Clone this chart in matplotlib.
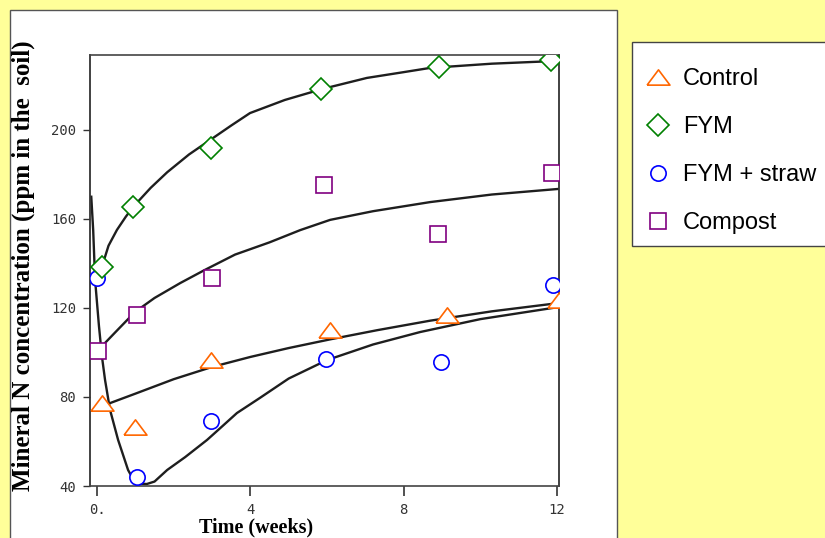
import matplotlib
matplotlib.use("Agg")
import matplotlib.pyplot as plt
from matplotlib.patches import Rectangle
from matplotlib.lines import Line2D

# measured points (weeks, ppm)
ctrl_x = [0.13, 1.0, 2.98, 6.08, 9.14, 12.04]
ctrl_y = [77.1, 66.3, 96.6, 110.3, 116.9, 123.8]
fym_x = [0.13, 0.94, 2.98, 5.85, 8.93, 11.83]
fym_y = [138.4, 165.4, 191.9, 218.4, 228.3, 231.5]
straw_x = [0.0, 1.04, 2.98, 5.98, 8.98, 11.9]
straw_y = [133.5, 44.0, 69.2, 97.1, 95.7, 130.3]
comp_x = [0.03, 1.04, 3.0, 5.93, 8.9, 11.88]
comp_y = [100.7, 116.9, 133.5, 175.3, 153.3, 180.7]

# fitted curves
fym_cx = [0.1, 0.3, 0.52, 0.75, 0.94, 1.4, 1.83, 2.4, 2.95, 3.5, 3.99, 4.9, 5.87,
          7.04, 8.0, 8.69, 10.3, 11.95]
fym_cy = [137.0, 148.0, 155.1, 161.0, 165.4, 174.0, 181.0, 189.0, 195.5, 202.0, 207.6,
          213.5, 218.4, 223.4, 226.0, 227.9, 229.8, 231.0]
comp_cx = [0.0, 0.21, 0.5, 0.99, 1.5, 2.17, 2.8, 3.6, 4.5, 5.3, 6.08, 7.2, 8.69,
           10.3, 12.03]
comp_cy = [100.7, 104.3, 109.5, 118.2, 124.5, 131.2, 137.0, 144.0, 149.5, 155.0,
           159.6, 163.5, 167.6, 171.0, 173.5]
ctrl_cx = [0.3, 1.0, 2.0, 3.0, 4.0, 5.0, 6.08, 7.3, 8.69, 10.3, 12.03]
ctrl_cy = [77.0, 81.5, 88.0, 93.5, 98.0, 102.0, 105.9, 110.0, 114.3, 118.5, 122.2]
straw_cx = [-0.15, -0.1, -0.05, 0.05, 0.13, 0.21, 0.34, 0.55, 0.81, 0.95, 1.1, 1.3,
            1.5, 1.83, 2.3, 2.87, 3.2, 3.65, 4.25, 5.0, 6.0, 7.2, 8.43, 10.0, 12.03]
straw_cy = [170.0, 155.0, 132.6, 112.0, 98.0, 87.6, 74.2, 60.7, 47.2, 42.8, 41.0,
            40.9, 42.0, 47.2, 53.0, 60.7, 65.8, 72.8, 79.6, 88.3, 96.6, 103.6, 109.2,
            115.0, 120.4]

xticks = [0, 4, 8, 12]
xticklabels = ['0.', '4', '8', '12']
yticks = [40, 80, 120, 160, 200]

W, H = 825, 538
fig = plt.figure(figsize=(W / 100, H / 100), dpi=100, facecolor='#FFFF99')

# white slide panel, kept behind the axes
fig.patches.append(Rectangle((10 / W, -0.01), 607 / W, 528 / H + 0.01,
                             transform=fig.transFigure, facecolor='white',
                             edgecolor='#555555', lw=1.0, zorder=-10))
# legend box drawn by hand so rows can sit where they do in the slide
fig.patches.append(Rectangle((632 / W, 1 - 246 / H), 200 / W, 204 / H,
                             transform=fig.transFigure, facecolor='white',
                             edgecolor='#444444', lw=1.0, zorder=-10))

ax = fig.add_axes([90 / W, 52 / H, 469 / W, 431 / H])
ax.set_facecolor('none')
ax.set_xlim(-0.183, 12.05)
ax.set_ylim(40, 233.7)

lc = '#1e1e1e'
ax.plot(fym_cx, fym_cy, color=lc, lw=1.7, zorder=2)
ax.plot(comp_cx, comp_cy, color=lc, lw=1.7, zorder=2)
ax.plot(ctrl_cx, ctrl_cy, color=lc, lw=1.7, zorder=2)
ax.plot(straw_cx, straw_cy, color=lc, lw=1.7, zorder=2)

tri = [(-1.5, -1), (1.5, -1), (0, 1), (-1.5, -1)]
mk = dict(linestyle='none', markerfacecolor='white', markeredgewidth=1.2, zorder=3)
ax.plot(straw_x, straw_y, marker='o', ms=11, markeredgecolor='#0000FF', **mk)
ax.plot(comp_x, comp_y, marker='s', ms=12, markeredgecolor='#800080', **mk)
ax.plot(ctrl_x, ctrl_y, marker=tri, ms=16.5, markeredgecolor='#FF6600', **mk)
ax.plot(fym_x, fym_y, marker='D', ms=11.7, markeredgecolor='#008000', **mk)

for s in ['left', 'right']:
    ax.spines[s].set_color('#333333')
    ax.spines[s].set_linewidth(1.3)
for s in ['top', 'bottom']:
    ax.spines[s].set_color('#444444')
    ax.spines[s].set_linewidth(1.2)
    ax.spines[s].set_linestyle((0, (8, 1, 2, 1)))

ax.set_xticks(xticks)
ax.set_xticklabels(xticklabels)
ax.set_yticks(yticks)
ax.set_yticklabels([str(v) for v in yticks])
ax.tick_params(axis='x', direction='out', length=7, width=1.2, color='#333333',
               pad=5, labelsize=10, labelcolor='#333333')
ax.tick_params(axis='y', direction='out', length=5, width=1.0, color='#333333',
               pad=5, labelsize=10, labelcolor='#333333')
for lab in ax.get_xticklabels() + ax.get_yticklabels():
    lab.set_family('DejaVu Sans Mono')

fig.text(23 / W, 1 - 266 / H, 'Mineral N concentration (ppm in the  soil)',
         rotation=90, ha='center', va='center', fontsize=18,
         fontweight='bold', family='Liberation Serif')
fig.text(256 / W, 1 - 527 / H, 'Time (weeks)', ha='center', va='center',
         fontsize=14.5, fontweight='bold', family='Liberation Serif')

handles = [
    Line2D([], [], marker=tri, ms=16.5, markeredgecolor='#FF6600', **mk),
    Line2D([], [], marker='D', ms=11.7, markeredgecolor='#008000', **mk),
    Line2D([], [], marker='o', ms=11, markeredgecolor='#0000FF', **mk),
    Line2D([], [], marker='s', ms=12, markeredgecolor='#800080', **mk),
]
labels = ['Control', 'FYM', 'FYM + straw', 'Compost']
leg = fig.legend(handles, labels, loc='upper left',
                 bbox_to_anchor=(646 / W, 1 - 68 / H), frameon=False,
                 prop={'family': 'Liberation Sans', 'size': 17},
                 labelspacing=1.1, handlelength=1.0, handletextpad=0.57,
                 borderpad=0, borderaxespad=0)

fig.savefig('out.png', dpi=100, facecolor=fig.get_facecolor())
